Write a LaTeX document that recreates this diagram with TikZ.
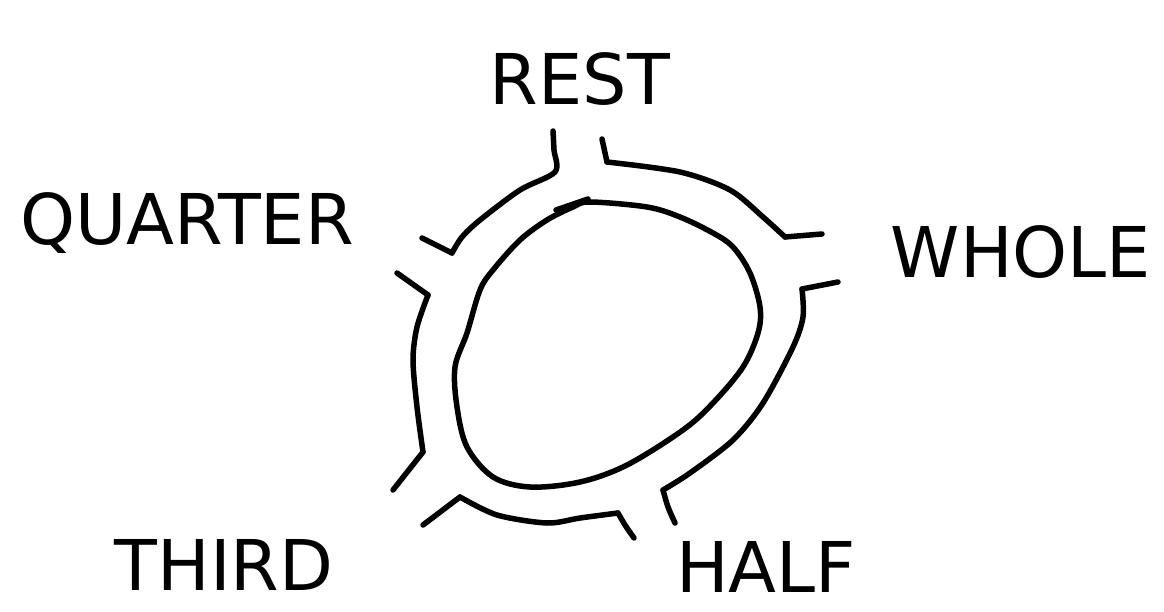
\documentclass[tikz,border=0pt]{standalone}
\usepackage{fontspec}
\setmainfont{DejaVu Sans}
\begin{document}
\begin{tikzpicture}[x=1pt,y=-1pt,
  road/.style={line width=5.5pt,line cap=round,line join=round},
  lbl/.style={font=\fontsize{70}{70}\selectfont,anchor=base,inner sep=0pt}]
\useasboundingbox (0,0) rectangle (1164,612);
% inner island
\draw[road] plot[smooth cycle,tension=0.55] coordinates {
 (590,202) (647,207) (680,217) (713,233) (733,247) (750,273) (760,307)
 (758,333) (743,367) (713,403) (683,430) (627,465) (580,482) (530,487)
 (493,477) (467,447) (457,407) (455,367) (467,333) (480,290) (493,270)
 (520,240) (547,220) (573,207)};
\draw[road] (556,210) -- (588,199);
% REST left -> QUARTER upper
\draw[road] plot[smooth,tension=0.5] coordinates {
 (553,131) (554,150) (555,172) (520,190) (480,220) (462,237) (452,253)};
\draw[road] (452,253) -- (422,238);
% REST right -> WHOLE upper
\draw[road] (602,139) -- (607,162);
\draw[road] plot[smooth,tension=0.5] coordinates {
 (607,162) (680,172) (730,190) (763,217) (785,237)};
\draw[road] (785,237) -- (822,234);
% WHOLE lower -> HALF right
\draw[road] (838,282) -- (802,289);
\draw[road] plot[smooth,tension=0.5] coordinates {
 (802,289) (803,317) (793,347) (763,403) (733,440) (690,473) (663,490)};
\draw[road] plot[smooth,tension=0.5] coordinates {(663,490) (668,507) (675,523)};
% HALF left -> THIRD lower
\draw[road] plot[smooth,tension=0.5] coordinates {(634,538) (625,525) (618,513)};
\draw[road] plot[smooth,tension=0.5] coordinates {
 (618,513) (580,518) (547,523) (497,515) (460,497)};
\draw[road] (460,497) -- (423,525);
% THIRD upper -> QUARTER lower
\draw[road] (393,490) -- (423,452);
\draw[road] plot[smooth,tension=0.5] coordinates {
 (423,452) (417,407) (413,360) (417,327) (428,295)};
\draw[road] (428,295) -- (397,273);
% labels
\node[lbl] (rest) at (580,105) {REST};
\node[lbl] (quarter) at (187,245) {QUARTER};
\node[lbl] (whole) at (1021,277) {WHOLE};
\node[lbl] (third) at (224,590) {THIRD};
\node[lbl] (half) at (766,592) {HALF};
\end{tikzpicture}
\end{document}
